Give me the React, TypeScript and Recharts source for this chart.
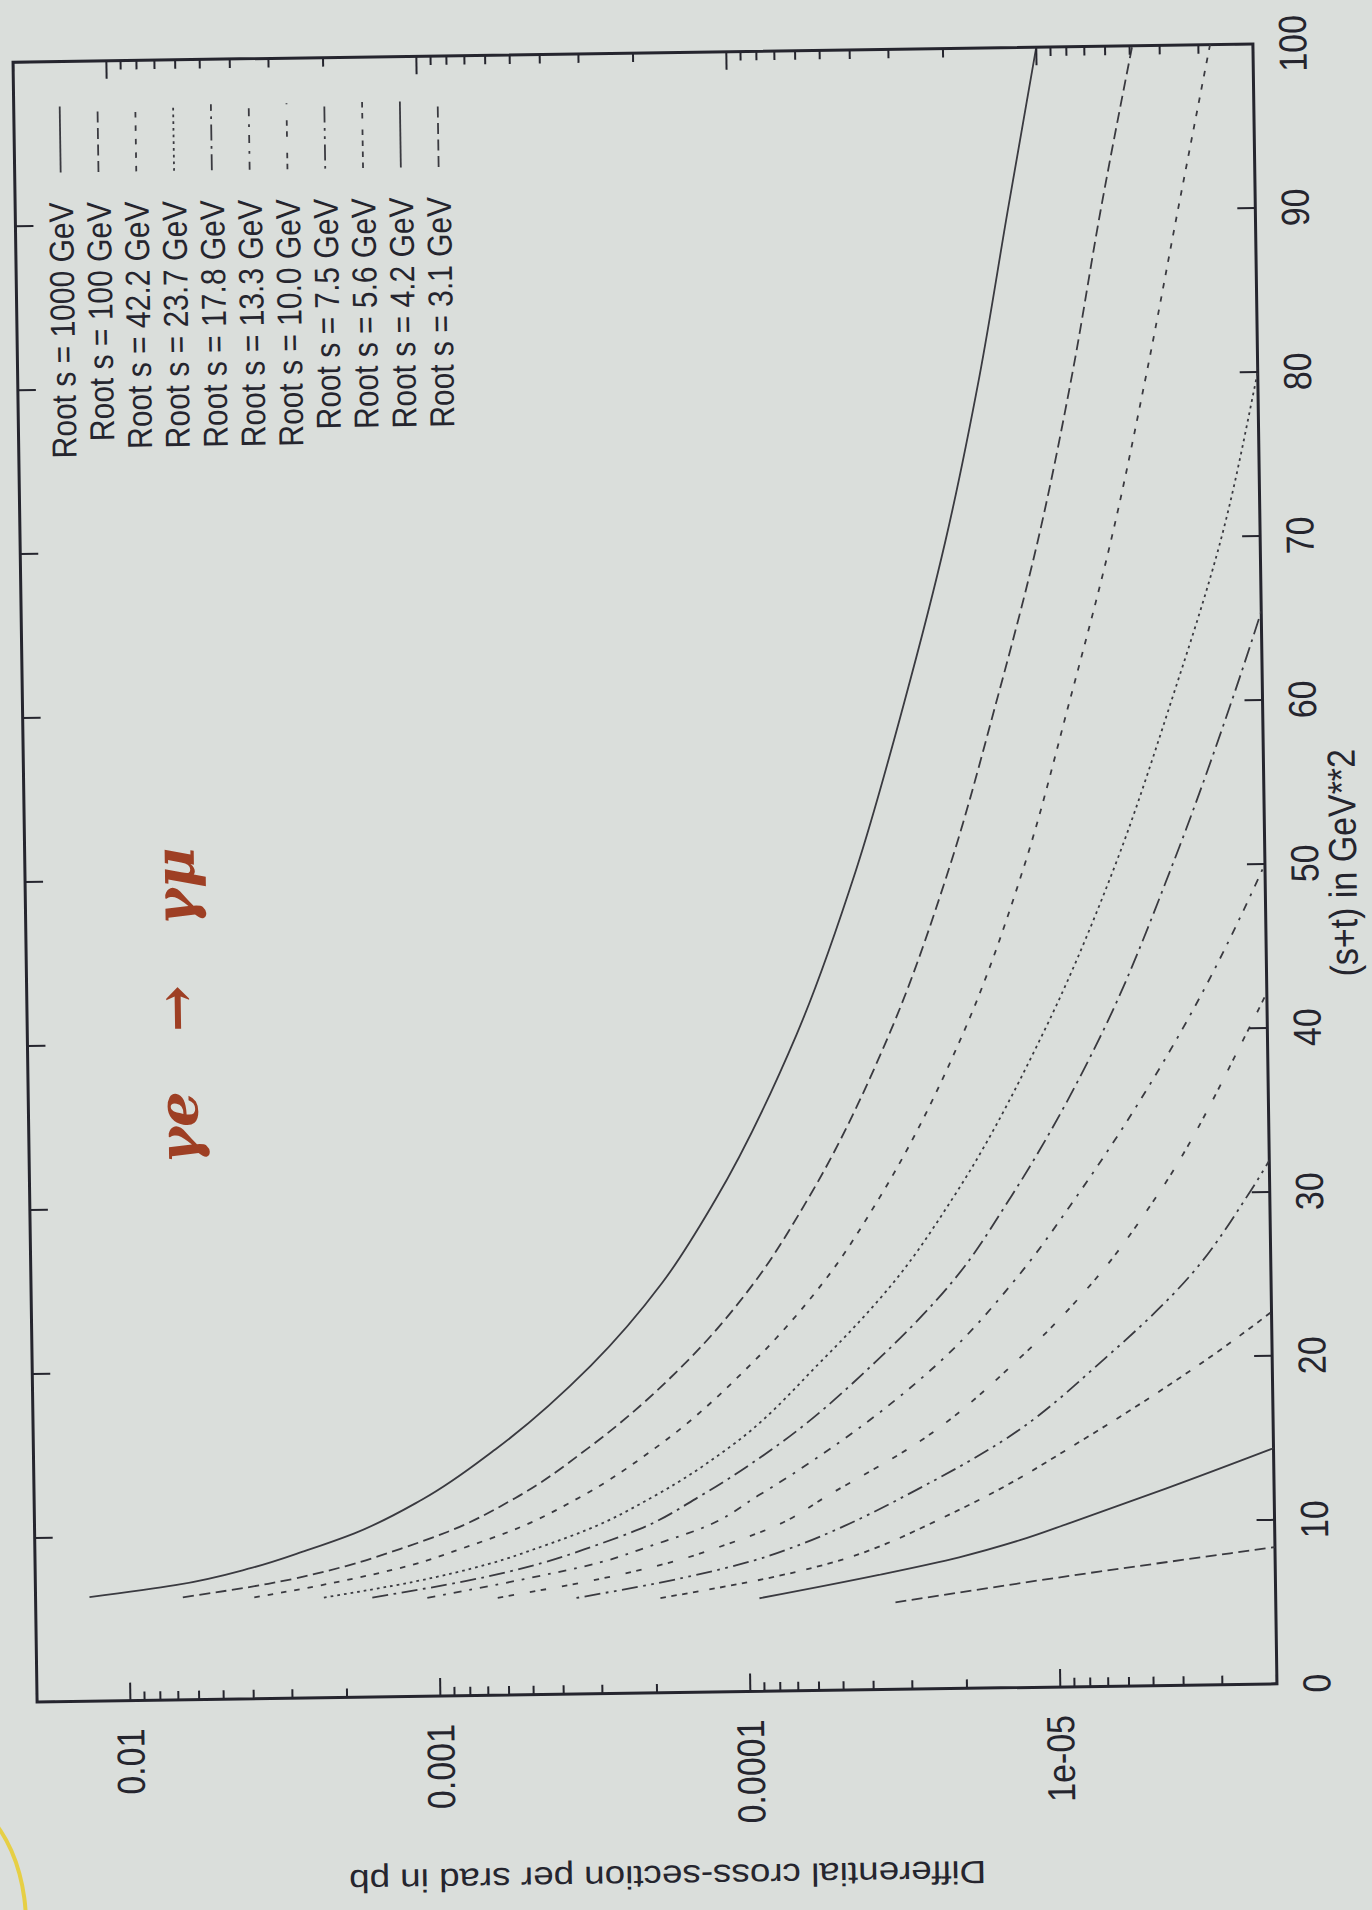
import React from "react";
import { LineChart, Line, XAxis, YAxis, ReferenceArea } from "recharts";

// first (s+t) point of each curve, then the shared (s+t) grid in GeV**2
const stStart = [6.35, 6.25, 6.18, 6.11, 6.07, 6.0, 5.94, 5.86, 5.78, 5.68, 5.31];
const stGrid = [7, 8, 9, 10, 12, 15, 20, 25, 30, 40, 50, 60, 70, 80, 90, 100];

// differential cross-section (pb / srad)
const root1000 = [1.34e-2, 7.08e-3, 3.98e-3, 2.66e-3, 1.86e-3, 1.12e-3, 6.46e-4, 3.16e-4, 1.84e-4, 1.23e-4, 6.61e-5, 4.17e-5, 2.88e-5, 2.07e-5, 1.58e-5, 1.26e-5, 1.0e-5];
const root100 = [6.7e-3, 3.55e-3, 2.0e-3, 1.33e-3, 9.33e-4, 5.62e-4, 3.24e-4, 1.58e-4, 9.23e-5, 6.17e-5, 3.31e-5, 2.09e-5, 1.45e-5, 1.04e-5, 7.94e-6, 6.31e-6, 4.9e-6];
const root42 = [3.94e-3, 2.19e-3, 1.23e-3, 8.32e-4, 5.82e-4, 3.47e-4, 1.95e-4, 9.55e-5, 5.5e-5, 3.63e-5, 1.91e-5, 1.2e-5, 8.41e-6, 6.03e-6, 4.57e-6, 3.55e-6, 2.75e-6];
const root23 = [2.35e-3, 1.2e-3, 6.92e-4, 4.68e-4, 3.31e-4, 2.0e-4, 1.12e-4, 5.75e-5, 3.24e-5, 2.09e-5, 1.05e-5, 6.1e-6, 3.94e-6, 2.66e-6, 2.0e-6, 1.55e-6];
const root17 = [1.64e-3, 8.13e-4, 4.68e-4, 3.16e-4, 2.24e-4, 1.41e-4, 7.94e-5, 3.8e-5, 2.09e-5, 1.36e-5, 6.76e-6, 3.98e-6, 2.51e-6, 1.66e-6];
const root13 = [1.09e-3, 5.5e-4, 3.02e-4, 2.04e-4, 1.41e-4, 9.12e-5, 5.13e-5, 2.34e-5, 1.32e-5, 8.32e-6, 3.76e-6, 2.0e-6, 1.2e-6];
const root10 = [6.46e-4, 3.02e-4, 1.74e-4, 1.17e-4, 8.32e-5, 5.37e-5, 2.82e-5, 1.32e-5, 7.24e-6, 4.57e-6, 2.29e-6, 1.26e-6];
const root7 = [3.6e-4, 1.62e-4, 9.55e-5, 6.61e-5, 4.9e-5, 2.95e-5, 1.51e-5, 6.92e-6, 3.63e-6, 2.32e-6, 1.2e-6];
const root5 = [1.93e-4, 8.13e-5, 4.9e-5, 3.47e-5, 2.63e-5, 1.58e-5, 8.32e-6, 3.16e-6, 1.38e-6];
const root4 = [9.25e-5, 3.8e-5, 2.09e-5, 1.32e-5, 9.12e-6, 4.47e-6, 1.62e-6];
const root3 = [3.37e-5, 7.41e-6, 2.79e-6, 1.05e-6];

const legendNames = [
  "Root s = 1000 GeV",
  "Root s = 100 GeV",
  "Root s = 42.2 GeV",
  "Root s = 23.7 GeV",
  "Root s = 17.8 GeV",
  "Root s = 13.3 GeV",
  "Root s = 10.0 GeV",
  "Root s = 7.5 GeV",
  "Root s = 5.6 GeV",
  "Root s = 4.2 GeV",
  "Root s = 3.1 GeV",
];

// gnuplot postscript line types 1..9, then cycling
const dashes = [
  "",
  "11 5.5",
  "5.5 8",
  "2.7 4",
  "16 5.5 2.7 5.5",
  "8 8 2.7 8",
  "5.5 5.5 5.5 16",
  "2.7 5.5 16 5.5 2.7 5.5",
  "5.5 5.5 5.5 5.5 5.5 5.5 5.5 11",
  "",
  "11 5.5",
];

const xTicks = [0, 10, 20, 30, 40, 50, 60, 70, 80, 90, 100];
const yMajor = [1e-2, 1e-3, 1e-4, 1e-5];
const yMajorLabels = ["0.01", "0.001", "0.0001", "1e-05"];
const yMantissas = [2, 3, 4, 5, 6, 7, 8, 9];
const yDecades = [-6, -5, -4, -3, -2];

const allValues = [root1000, root100, root42, root23, root17, root13, root10, root7, root5, root4, root3];
const series = allValues.map((vals, i) => {
  const xs = [stStart[i], ...stGrid];
  return {
    name: legendNames[i],
    dash: dashes[i],
    data: vals.map((v, j) => ({ x: xs[j], y: v })),
  };
});

const yTicks = [
  ...yMajor,
  ...yDecades.flatMap((d) => yMantissas.map((m) => m * Math.pow(10, d))).filter((v) => v >= 2e-6 && v <= 0.02),
];

const INK = "#25252e";
const LINE_INK = "#3a3a40";
const FONT = "'Liberation Sans', Arial, Helvetica, sans-serif";
const STRETCH = 1.15;

const CHART_W = 1910;
const CHART_H = 1372;
const MARGIN = { top: 25, right: 53, bottom: 17, left: 67 };
const Y_W = 150;
const X_H = 90;
const PL = MARGIN.left + Y_W;
const PR = CHART_W - MARGIN.right;
const PT = MARGIN.top;
const PB = CHART_H - MARGIN.bottom - X_H;

function Txt({ x, y, size, anchor = "middle", rotate = 0, children }: any) {
  return (
    <text
      transform={`translate(${x},${y}) scale(1,${STRETCH}) rotate(${rotate})`}
      textAnchor={anchor}
      dominantBaseline="central"
      fontSize={size}
      fontFamily={FONT}
      fill={INK}
    >
      {children}
    </text>
  );
}

function YTick(props: any) {
  const { y, payload } = props;
  const idx = yMajor.findIndex((m) => Math.abs(m - payload.value) / m < 1e-6);
  const len = idx >= 0 ? 18 : 9;
  return (
    <g>
      <line x1={PL} x2={PL + len} y1={y} y2={y} stroke={INK} strokeWidth={2} />
      <line x1={PR - len} x2={PR} y1={y} y2={y} stroke={INK} strokeWidth={2} />
      {idx >= 0 && (
        <Txt x={PL - 28} y={y} size={34} anchor="end">
          {yMajorLabels[idx]}
        </Txt>
      )}
    </g>
  );
}

function XTick(props: any) {
  const { x, payload } = props;
  return (
    <g>
      <line x1={x} x2={x} y1={PB} y2={PB - 18} stroke={INK} strokeWidth={2} />
      <line x1={x} x2={x} y1={PT} y2={PT + 18} stroke={INK} strokeWidth={2} />
      <Txt x={x} y={PB + 40} size={34}>
        {payload.value}
      </Txt>
    </g>
  );
}

export default function App() {
  return (
    <div style={{ position: "absolute", left: 0, top: 0, width: 1372, height: 1910, overflow: "hidden", background: "#dadedb" }}>
      <div
        style={{
          position: "absolute",
          left: 0,
          top: 0,
          width: CHART_W,
          height: CHART_H,
          transformOrigin: "0 0",
          transform: "translate(645px, 873px) rotate(-0.84deg) translate(-645px, -873px) translate(0px, 1910px) rotate(-90deg)",
        }}
      >
        <LineChart width={CHART_W} height={CHART_H} margin={MARGIN}>
          <XAxis
            type="number"
            dataKey="x"
            domain={[0, 100]}
            ticks={xTicks}
            interval={0}
            height={X_H}
            axisLine={false}
            tickLine={false}
            tick={(p: any) => <XTick {...p} />}
          />
          <YAxis
            type="number"
            dataKey="y"
            scale="log"
            domain={[2e-6, 0.02]}
            allowDataOverflow
            ticks={yTicks}
            interval={0}
            width={Y_W}
            axisLine={false}
            tickLine={false}
            tick={(p: any) => <YTick {...p} />}
          />
          <ReferenceArea x1={0} x2={100} y1={2e-6} y2={0.02} fill="none" stroke={INK} strokeWidth={3} ifOverflow="visible" />
          {series.map((s) => (
            <Line
              key={s.name}
              data={s.data}
              dataKey="y"
              type="monotone"
              stroke={LINE_INK}
              strokeWidth={1.8}
              strokeDasharray={s.dash || undefined}
              dot={false}
              activeDot={false}
              isAnimationActive={false}
            />
          ))}
        </LineChart>
        <svg width={CHART_W} height={CHART_H} style={{ position: "absolute", left: 0, top: 0, pointerEvents: "none" }}>
          {series.map((s, i) => {
            const cy = 71 + 37.8 * i;
            return (
              <g key={s.name}>
                <Txt x={1716} y={cy} size={30} anchor="end">
                  {s.name}
                </Txt>
                <line x1={1746} x2={1812} y1={cy} y2={cy} stroke={LINE_INK} strokeWidth={1.8} strokeDasharray={s.dash || undefined} />
              </g>
            );
          })}
          <Txt x={(PL + PR) / 2} y={PB + 78} size={34}>
            (s+t) in GeV**2
          </Txt>
          <Txt x={33} y={(PT + PB) / 2 + 8} size={32} rotate={-90}>
            Differential cross-section per srad in pb
          </Txt>
          <text
            x={911}
            y={174}
            textAnchor="middle"
            dominantBaseline="central"
            fontSize={56}
            fontFamily="'DejaVu Serif', serif"
            fontStyle="italic"
            fontWeight="bold"
            wordSpacing={40}
            fill="#9e3f24"
          >
            γe → γμ
          </text>
        </svg>
      </div>
      <div
        style={{
          position: "absolute",
          left: -150,
          top: 1790,
          width: 170,
          height: 260,
          borderRadius: "50%",
          border: "4px solid #e6cf45",
        }}
      />
    </div>
  );
}
